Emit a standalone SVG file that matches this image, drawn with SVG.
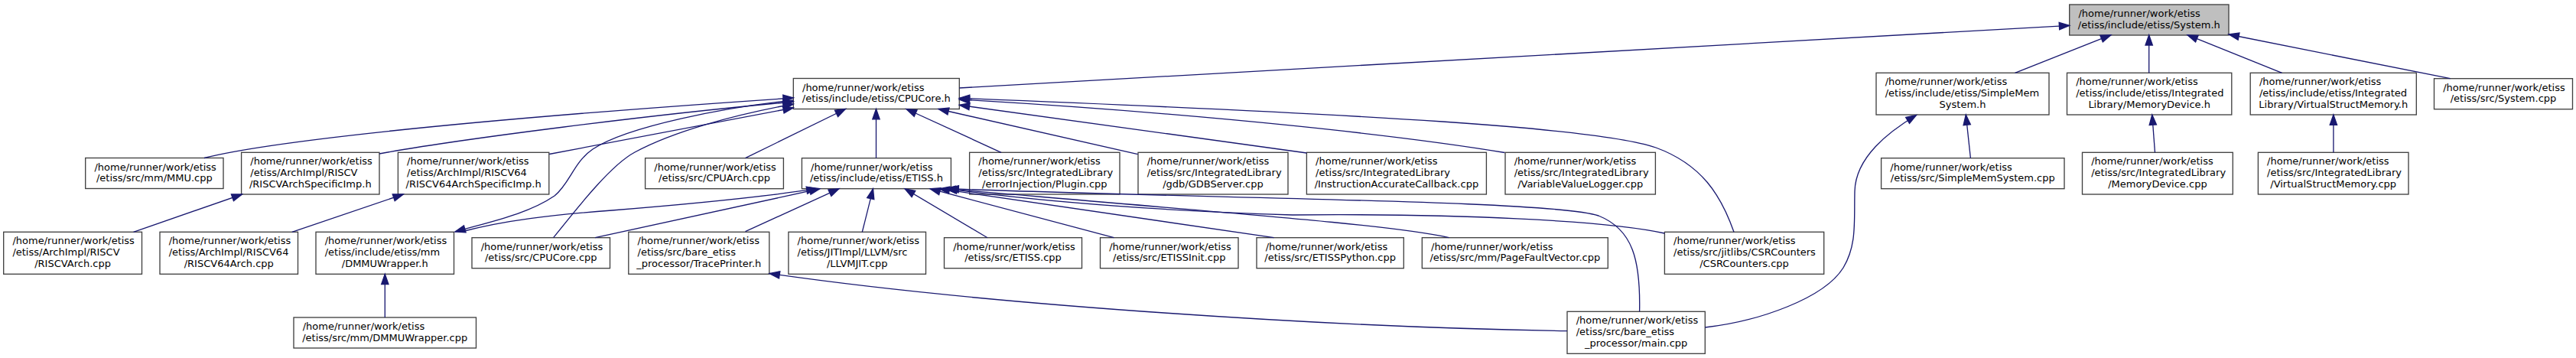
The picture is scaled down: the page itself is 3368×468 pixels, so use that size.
<svg xmlns="http://www.w3.org/2000/svg" width="3368" height="468" viewBox="0 0 3368 468">
<defs>
<style>
.n rect{fill:#ffffff;stroke:#404040;stroke-width:1.33}
.n.root rect{fill:#bfbfbf}
.n text{font-family:"DejaVu Sans","Liberation Sans",sans-serif;font-size:13px;fill:#000000}
.n text.c{text-anchor:middle}
#connectors path{fill:none;stroke:#191970;stroke-width:1.33;marker-end:url(#arr)}
</style>
<marker id="arr" markerUnits="userSpaceOnUse" markerWidth="16" markerHeight="12" viewBox="-1 -1 16 12" refX="13.3" refY="4.65" orient="auto" overflow="visible">
<path d="M0,0 L13.3,4.65 L0,9.3 Z" fill="#191970" stroke="#191970" stroke-width="1.33"/>
</marker>
</defs>
<rect width="3368" height="468" fill="#ffffff"/>

<g id="n1" class="n root"><rect x="2705.7" y="6" width="208.3" height="40"/><text x="2717.4" y="22">/home/runner/work/etiss</text><text class="c" x="2809.85" y="36.67">/etiss/include/etiss/System.h</text></g>
<g id="n2" class="n"><rect x="1037.3" y="102.5" width="217" height="40"/><text x="1049" y="118.5">/home/runner/work/etiss</text><text class="c" x="1145.8" y="133.17">/etiss/include/etiss/CPUCore.h</text></g>
<g id="n3" class="n"><rect x="111.7" y="206.5" width="180.3" height="40"/><text x="123.4" y="222.5">/home/runner/work/etiss</text><text class="c" x="201.85" y="237.17">/etiss/src/mm/MMU.cpp</text></g>
<g id="n4" class="n"><rect x="315.6" y="199.3" width="180.4" height="54.7"/><text x="327.3" y="215.3">/home/runner/work/etiss</text><text x="327.3" y="229.97">/etiss/ArchImpl/RISCV</text><text class="c" x="405.8" y="244.63">/RISCVArchSpecificImp.h</text></g>
<g id="n5" class="n"><rect x="4.7" y="303.3" width="180.8" height="55"/><text x="16.4" y="319.3">/home/runner/work/etiss</text><text x="16.4" y="333.97">/etiss/ArchImpl/RISCV</text><text class="c" x="95.1" y="348.63">/RISCVArch.cpp</text></g>
<g id="n6" class="n"><rect x="520.4" y="199.3" width="197.4" height="54.7"/><text x="532.1" y="215.3">/home/runner/work/etiss</text><text x="532.1" y="229.97">/etiss/ArchImpl/RISCV64</text><text class="c" x="619.1" y="244.63">/RISCV64ArchSpecificImp.h</text></g>
<g id="n7" class="n"><rect x="209" y="303.3" width="180.5" height="55"/><text x="220.7" y="319.3">/home/runner/work/etiss</text><text x="220.7" y="333.97">/etiss/ArchImpl/RISCV64</text><text class="c" x="299.25" y="348.63">/RISCV64Arch.cpp</text></g>
<g id="n8" class="n"><rect x="413" y="303.3" width="180.5" height="55"/><text x="424.7" y="319.3">/home/runner/work/etiss</text><text x="424.7" y="333.97">/etiss/include/etiss/mm</text><text class="c" x="503.25" y="348.63">/DMMUWrapper.h</text></g>
<g id="n9" class="n"><rect x="384" y="415" width="238.5" height="40"/><text x="395.7" y="431">/home/runner/work/etiss</text><text class="c" x="503.25" y="445.67">/etiss/src/mm/DMMUWrapper.cpp</text></g>
<g id="n10" class="n"><rect x="617" y="310.7" width="180.5" height="40"/><text x="628.7" y="326.7">/home/runner/work/etiss</text><text class="c" x="707.25" y="341.37">/etiss/src/CPUCore.cpp</text></g>
<g id="n11" class="n"><rect x="843.6" y="206.7" width="180.8" height="40"/><text x="855.3" y="222.7">/home/runner/work/etiss</text><text class="c" x="934" y="237.37">/etiss/src/CPUArch.cpp</text></g>
<g id="n12" class="n"><rect x="1048.4" y="206.7" width="195" height="40"/><text x="1060.1" y="222.7">/home/runner/work/etiss</text><text class="c" x="1145.9" y="237.37">/etiss/include/etiss/ETISS.h</text></g>
<g id="n13" class="n"><rect x="821.8" y="303.3" width="184" height="55"/><text x="833.5" y="319.3">/home/runner/work/etiss</text><text x="833.5" y="333.97">/etiss/src/bare_etiss</text><text class="c" x="913.8" y="348.63">_processor/TracePrinter.h</text></g>
<g id="n14" class="n"><rect x="1030.9" y="303.3" width="179.6" height="55"/><text x="1042.6" y="319.3">/home/runner/work/etiss</text><text x="1042.6" y="333.97">/etiss/JITImpl/LLVM/src</text><text class="c" x="1120.7" y="348.63">/LLVMJIT.cpp</text></g>
<g id="n15" class="n"><rect x="1267.6" y="199.3" width="196.4" height="54.7"/><text x="1279.3" y="215.3">/home/runner/work/etiss</text><text x="1279.3" y="229.97">/etiss/src/IntegratedLibrary</text><text class="c" x="1365.8" y="244.63">/errorInjection/Plugin.cpp</text></g>
<g id="n16" class="n"><rect x="1488" y="199.3" width="196" height="54.7"/><text x="1499.7" y="215.3">/home/runner/work/etiss</text><text x="1499.7" y="229.97">/etiss/src/IntegratedLibrary</text><text class="c" x="1586" y="244.63">/gdb/GDBServer.cpp</text></g>
<g id="n17" class="n"><rect x="1234.5" y="310.7" width="180" height="40"/><text x="1246.2" y="326.7">/home/runner/work/etiss</text><text class="c" x="1324.5" y="341.37">/etiss/src/ETISS.cpp</text></g>
<g id="n18" class="n"><rect x="1438.5" y="310.7" width="180.5" height="40"/><text x="1450.2" y="326.7">/home/runner/work/etiss</text><text class="c" x="1528.75" y="341.37">/etiss/src/ETISSInit.cpp</text></g>
<g id="n19" class="n"><rect x="1643" y="310.7" width="192.3" height="40"/><text x="1654.7" y="326.7">/home/runner/work/etiss</text><text class="c" x="1739.15" y="341.37">/etiss/src/ETISSPython.cpp</text></g>
<g id="n20" class="n"><rect x="1708.4" y="199.3" width="235" height="54.7"/><text x="1720.1" y="215.3">/home/runner/work/etiss</text><text x="1720.1" y="229.97">/etiss/src/IntegratedLibrary</text><text class="c" x="1825.9" y="244.63">/InstructionAccurateCallback.cpp</text></g>
<g id="n21" class="n"><rect x="1968" y="199.3" width="196.4" height="54.7"/><text x="1979.7" y="215.3">/home/runner/work/etiss</text><text x="1979.7" y="229.97">/etiss/src/IntegratedLibrary</text><text class="c" x="2066.2" y="244.63">/VariableValueLogger.cpp</text></g>
<g id="n22" class="n"><rect x="1859.3" y="310.7" width="243" height="40"/><text x="1871" y="326.7">/home/runner/work/etiss</text><text class="c" x="1980.8" y="341.37">/etiss/src/mm/PageFaultVector.cpp</text></g>
<g id="n23" class="n"><rect x="2049" y="407.3" width="180.3" height="55"/><text x="2060.7" y="423.3">/home/runner/work/etiss</text><text x="2060.7" y="437.97">/etiss/src/bare_etiss</text><text class="c" x="2139.15" y="452.63">_processor/main.cpp</text></g>
<g id="n24" class="n"><rect x="2176.4" y="303.3" width="208.3" height="55"/><text x="2188.1" y="319.3">/home/runner/work/etiss</text><text x="2188.1" y="333.97">/etiss/src/jitlibs/CSRCounters</text><text class="c" x="2280.55" y="348.63">/CSRCounters.cpp</text></g>
<g id="n25" class="n"><rect x="2453" y="95.3" width="226" height="54.7"/><text x="2464.7" y="111.3">/home/runner/work/etiss</text><text x="2464.7" y="125.97">/etiss/include/etiss/SimpleMem</text><text class="c" x="2566" y="140.63">System.h</text></g>
<g id="n26" class="n"><rect x="2459.6" y="206.7" width="239.4" height="40"/><text x="2471.3" y="222.7">/home/runner/work/etiss</text><text class="c" x="2579.3" y="237.37">/etiss/src/SimpleMemSystem.cpp</text></g>
<g id="n27" class="n"><rect x="2702.5" y="95.3" width="215.3" height="54.7"/><text x="2714.2" y="111.3">/home/runner/work/etiss</text><text x="2714.2" y="125.97">/etiss/include/etiss/Integrated</text><text class="c" x="2810.15" y="140.63">Library/MemoryDevice.h</text></g>
<g id="n28" class="n"><rect x="2722.5" y="199.3" width="196.8" height="54.7"/><text x="2734.2" y="215.3">/home/runner/work/etiss</text><text x="2734.2" y="229.97">/etiss/src/IntegratedLibrary</text><text class="c" x="2820.9" y="244.63">/MemoryDevice.cpp</text></g>
<g id="n29" class="n"><rect x="2942.2" y="95.3" width="217.1" height="54.7"/><text x="2953.9" y="111.3">/home/runner/work/etiss</text><text x="2953.9" y="125.97">/etiss/include/etiss/Integrated</text><text class="c" x="3050.75" y="140.63">Library/VirtualStructMemory.h</text></g>
<g id="n30" class="n"><rect x="2952.4" y="199.3" width="196.6" height="54.7"/><text x="2964.1" y="215.3">/home/runner/work/etiss</text><text x="2964.1" y="229.97">/etiss/src/IntegratedLibrary</text><text class="c" x="3050.7" y="244.63">/VirtualStructMemory.cpp</text></g>
<g id="n31" class="n"><rect x="3182.5" y="102.7" width="181" height="40"/><text x="3194.2" y="118.7">/home/runner/work/etiss</text><text class="c" x="3273" y="133.37">/etiss/src/System.cpp</text></g>

<g id="connectors">
<path d="M1254.3,115 L2705.7,33.3"/>
<path d="M2634.5,95.3 L2760,45.7"/>
<path d="M2809.7,95.3 L2809.7,45.7"/>
<path d="M2983.6,95.3 L2860,45.7"/>
<path d="M3203.6,102.7 L2914,45"/>
<path d="M2576.4,206.7 L2570.3,150"/>
<path d="M2229.3,428 C2300,420 2385,390 2410,350 C2428,320 2424,290 2425,250 C2426,205 2470,172 2505.5,150.5"/>
<path d="M2817.5,199.3 L2813.8,150"/>
<path d="M3050.9,199.3 L3050.9,150"/>
<path d="M1145.5,206.7 L1145.5,142.5"/>
<path d="M267,206.5 C340,188 560,160 1037.3,128"/>
<path d="M496,201 C600,182 850,150 1037.3,133"/>
<path d="M718.2,201.5 L1037.3,141"/>
<path d="M1037.3,131 C950,140 820,165 775,195 C750,212 745,240 725,256 C690,280 640,290 595,303"/>
<path d="M723.6,310.7 C760,265 800,215 830,199 C880,172 960,150 1037.3,136"/>
<path d="M974.5,206.7 L1105.5,142.5"/>
<path d="M1309,199.3 L1185,142.5"/>
<path d="M1487.6,201.7 L1227,142.5"/>
<path d="M1708.4,200 L1254.3,137.3"/>
<path d="M1967.3,199.5 C1850,180 1600,150 1254.3,130"/>
<path d="M2267,303.3 C2250,255 2225,215 2165,193 C2090,167 1800,150 1254.3,128.3"/>
<path d="M1127.3,303.3 L1141.5,246.7"/>
<path d="M1291,310.7 L1183,246.7"/>
<path d="M1456.4,310.7 L1216,246.7"/>
<path d="M1665.5,310.7 L1228,246.7"/>
<path d="M1894.5,310.7 C1830,296 1700,286 1236,246.7"/>
<path d="M2176.4,305 C2100,288 1900,279 1690,281 C1500,275 1350,262 1238,246.7"/>
<path d="M2143.6,407.3 C2145,340 2135,300 2090,282 C2030,262 1600,260 1240,246.7"/>
<path d="M974.5,302.7 L1097,246.7"/>
<path d="M778.2,310.7 L1072,246.7"/>
<path d="M605,302.5 C660,288 720,281 800,275 C900,267 1000,257 1068,246.7"/>
<path d="M503.3,415 L503.3,358.3"/>
<path d="M174.5,303.3 L316.5,254"/>
<path d="M381.8,303.3 L527.3,254"/>
<path d="M2049,432.7 C1750,428 1300,400 1006,357.5"/>
</g>
</svg>
